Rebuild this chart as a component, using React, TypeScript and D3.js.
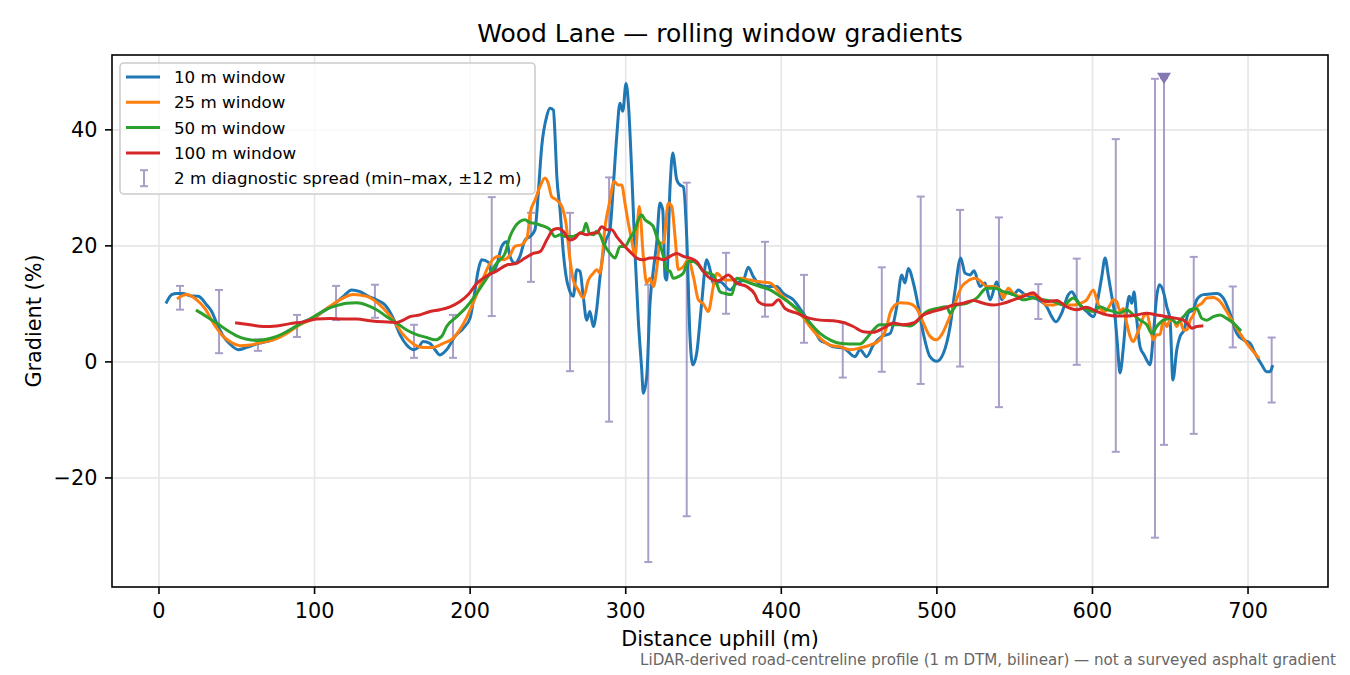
import * as d3 from "d3";
import React from "react";

// distance uphill (m), gradient (%)
const win10: [number, number][] = [
  [4.9, 10.3], [8.2, 11.6], [11.4, 11.8], [15.6, 11.8], [19.9, 11.4], [25.3, 11.3], [30.7, 9.8], [33.9, 8.7],
  [37.1, 6.7], [41.4, 4.4], [45.6, 3.1], [51.0, 2.1], [56.4, 2.5], [62.8, 3.1], [69.2, 3.5], [75.7, 4.1],
  [82.1, 5.2], [88.5, 6.1], [92.8, 6.9], [99.2, 7.5], [105.6, 8.7], [112.0, 9.8], [118.5, 11.3], [123.9, 12.4],
  [129.2, 12.1], [134.6, 11.3], [139.9, 10.7], [145.3, 9.8], [150.6, 7.5], [154.9, 4.7], [159.2, 2.9], [163.5, 2.1],
  [166.7, 2.5], [169.9, 3.5], [174.2, 3.2], [177.4, 2.1], [180.6, 1.2], [184.9, 2.1], [190.3, 4.4], [195.6, 5.8],
  [199.9, 7.5], [202.0, 10.4], [205.3, 15.9], [207.4, 17.6], [211.7, 17.2], [213.9, 15.3], [217.1, 16.7], [220.3, 19.9],
  [223.5, 20.7], [225.6, 18.2], [228.8, 17.0], [232.0, 18.2], [235.3, 21.0], [238.5, 21.6], [241.7, 22.8], [243.8, 29.1],
  [246.0, 37.1], [249.2, 42.3], [251.3, 43.7], [253.5, 43.4], [254.5, 39.4], [255.6, 32.5], [257.8, 26.2], [259.9, 18.8],
  [262.1, 14.1], [263.1, 13.0], [266.3, 11.3], [268.5, 15.9], [270.6, 15.6], [272.7, 11.3], [274.9, 7.2], [277.0, 8.7],
  [279.2, 6.1], [281.3, 9.0], [283.5, 14.7], [286.7, 20.5], [289.9, 22.8], [292.0, 30.2], [294.2, 38.8], [296.3, 44.6],
  [298.1, 43.2], [300.2, 48.0], [301.7, 44.6], [303.8, 33.1], [306.0, 18.7], [308.1, 7.2], [310.3, -1.4], [311.3, -5.4],
  [313.5, -2.5], [315.6, 10.1], [317.8, 15.9], [319.9, 20.5], [322.0, 27.4], [323.8, 26.2], [325.3, 14.7], [326.3, 14.1],
  [328.5, 30.2], [330.2, 36.0], [332.8, 31.4], [334.9, 30.5], [337.0, 30.2], [339.2, 21.6], [341.3, 4.4], [343.1, -0.5],
  [345.6, 1.5], [348.8, 10.1], [352.0, 17.6], [354.2, 15.9], [356.3, 13.5], [360.6, 13.8], [367.1, 12.4], [371.3, 13.6],
  [375.6, 14.1], [378.8, 16.3], [382.0, 14.7], [386.3, 13.3], [390.6, 13.0], [397.1, 13.0], [401.3, 11.8], [407.7, 10.7],
  [412.0, 9.2], [416.3, 7.5], [420.6, 5.8], [424.9, 3.8], [429.2, 3.2], [433.4, 2.6], [439.9, 2.4], [447.4, 0.9],
  [450.6, 2.1], [454.9, 0.9], [459.1, 2.9], [464.6, 4.4], [469.9, 4.9], [474.2, 9.5], [477.4, 15.0], [479.5, 13.6],
  [481.6, 16.1], [484.9, 13.6], [488.1, 9.5], [491.3, 4.9], [495.6, 0.9], [499.9, 0.1], [504.2, 1.5], [508.5, 6.1],
  [511.7, 12.4], [515.3, 17.9], [518.1, 15.3], [521.3, 15.0], [523.9, 15.7], [527.7, 13.0], [530.9, 13.6], [534.2, 10.7],
  [538.5, 13.8], [541.7, 10.7], [544.9, 12.1], [549.2, 11.6], [552.4, 12.4], [555.6, 11.8], [559.9, 11.3], [565.2, 10.7],
  [570.6, 9.5], [573.8, 7.8], [576.6, 6.9], [580.2, 8.4], [584.5, 11.6], [586.7, 12.1], [589.9, 10.7], [593.1, 9.5],
  [596.3, 8.7], [600.6, 7.8], [603.8, 11.3], [606.0, 14.7], [608.1, 17.9], [610.3, 14.7], [612.4, 11.3], [614.5, 7.8],
  [616.0, 3.2], [617.7, -1.9], [619.9, 2.6], [622.0, 9.0], [623.7, 11.3], [625.3, 10.1], [626.7, 12.1], [628.5, 7.2],
  [630.6, 2.6], [633.2, 1.2], [634.9, 0.3], [637.0, -0.5], [639.2, 4.9], [641.3, 11.3], [643.0, 13.3], [645.6, 12.1],
  [647.8, 9.5], [649.9, 7.2], [651.7, -3.1], [654.2, 2.1], [656.3, 4.4], [658.9, 5.5], [661.6, 8.4], [664.9, 9.0],
  [667.0, 10.7], [671.3, 11.6], [675.6, 11.7], [679.9, 11.8], [684.1, 11.0], [688.4, 8.4], [692.8, 4.9], [697.0, 3.8],
  [701.3, 3.2], [704.5, 1.5], [708.8, -0.5], [712.0, -1.7], [714.1, -1.7], [715.6, -0.8],
];

const win25: [number, number][] = [
  [12.4, 11.0], [17.8, 11.6], [24.2, 10.7], [29.6, 9.2], [34.9, 6.7], [40.3, 4.7], [45.6, 3.5], [52.1, 2.8],
  [58.5, 2.9], [64.9, 3.3], [73.5, 3.8], [82.1, 4.9], [90.6, 6.4], [99.2, 7.5], [107.8, 9.2], [116.3, 10.7],
  [124.9, 11.6], [133.5, 11.3], [142.1, 9.8], [150.6, 7.2], [157.0, 4.7], [163.5, 3.1], [169.9, 2.5], [176.3, 2.5],
  [182.7, 3.2], [189.2, 4.1], [193.5, 5.6], [197.5, 7.5], [202.0, 10.2], [208.5, 14.5], [212.8, 17.0], [218.1, 18.2],
  [221.3, 17.6], [225.6, 18.4], [228.8, 19.9], [233.1, 20.2], [236.8, 21.6], [238.5, 25.6], [241.7, 27.9], [244.9, 30.2],
  [248.1, 31.7], [250.2, 30.8], [252.4, 28.5], [255.6, 27.9], [258.9, 26.8], [261.6, 23.9], [264.2, 17.6], [266.3, 14.1],
  [269.5, 12.4], [272.7, 11.0], [276.0, 14.1], [279.2, 15.3], [281.3, 15.9], [283.5, 15.3], [286.7, 23.3], [289.9, 27.9],
  [292.5, 31.1], [295.2, 30.5], [297.4, 30.5], [299.5, 27.4], [301.7, 23.9], [303.8, 21.0], [306.0, 18.2], [308.7, 26.8],
  [311.3, 18.2], [313.5, 13.6], [315.6, 14.4], [317.8, 13.0], [319.9, 15.9], [322.0, 20.5], [324.2, 20.5], [327.4, 27.4],
  [329.6, 26.8], [331.7, 21.6], [333.8, 15.9], [337.0, 16.4], [340.2, 17.6], [343.5, 14.7], [346.7, 10.7], [349.9, 10.0],
  [353.1, 8.7], [356.3, 13.0], [358.5, 15.3], [363.8, 14.1], [368.1, 14.1], [373.5, 14.4], [379.9, 14.1], [386.3, 13.8],
  [392.8, 13.6], [399.2, 11.8], [405.6, 10.1], [412.0, 8.4], [418.4, 6.1], [424.9, 4.1], [431.3, 2.9], [437.7, 2.6],
  [444.1, 2.1], [450.6, 2.4], [457.0, 2.9], [463.4, 3.8], [467.8, 6.1], [469.9, 8.4], [473.1, 9.8], [476.3, 10.2],
  [481.6, 10.1], [487.0, 9.2], [491.3, 6.7], [495.6, 4.4], [499.9, 3.8], [503.1, 4.7], [507.4, 7.2], [511.7, 10.1],
  [516.0, 13.0], [519.2, 13.8], [524.5, 14.4], [527.7, 14.0], [532.0, 13.0], [536.3, 13.0], [540.6, 12.4], [542.7, 11.0],
  [545.9, 12.7], [549.2, 11.8], [553.5, 11.3], [557.8, 11.6], [562.0, 11.6], [566.3, 11.0], [570.6, 9.8], [574.9, 9.8],
  [579.2, 10.1], [583.5, 9.8], [587.7, 9.8], [592.0, 10.1], [596.3, 10.7], [600.6, 12.4], [602.8, 10.7], [604.9, 9.2],
  [608.1, 8.7], [611.3, 9.8], [613.4, 10.7], [615.6, 10.4], [617.7, 8.7], [619.9, 9.2], [622.0, 6.7], [624.2, 4.4],
  [626.3, 3.5], [628.5, 4.7], [630.6, 6.1], [632.8, 7.8], [634.9, 8.4], [637.0, 6.1], [639.2, 3.8], [641.3, 4.7],
  [643.4, 4.7], [645.6, 7.2], [647.8, 6.1], [649.9, 7.2], [652.1, 7.2], [654.2, 6.1], [656.3, 7.2], [658.5, 5.5],
  [660.7, 5.5], [662.8, 7.2], [664.9, 8.1], [667.0, 9.5], [670.3, 10.1], [673.5, 11.0], [677.7, 11.1], [682.0, 10.4],
  [686.3, 8.7], [690.6, 6.7], [694.9, 4.9], [699.2, 3.2], [703.4, 1.8], [706.5, 0.8],
];

const win50: [number, number][] = [
  [24.6, 8.8], [30.7, 7.8], [37.1, 6.7], [43.5, 5.5], [49.9, 4.5], [56.4, 3.9], [62.8, 3.7], [69.2, 3.9],
  [75.7, 4.4], [82.1, 5.2], [88.5, 6.2], [94.9, 7.1], [101.4, 8.1], [107.8, 9.1], [114.2, 9.7], [120.7, 10.1],
  [127.1, 10.2], [133.5, 9.8], [139.9, 9.0], [146.4, 7.8], [152.8, 6.7], [159.2, 5.5], [165.6, 4.7], [172.1, 4.2],
  [177.4, 3.8], [181.7, 4.4], [184.9, 6.1], [191.4, 7.8], [197.8, 9.5], [204.2, 11.8], [210.6, 14.4], [217.1, 17.0],
  [222.4, 18.7], [225.6, 21.6], [228.8, 23.3], [232.0, 24.2], [235.3, 24.5], [238.5, 24.0], [241.7, 23.9], [244.9, 23.6],
  [248.1, 23.3], [251.3, 22.8], [254.5, 21.6], [257.8, 21.9], [261.0, 21.6], [265.3, 21.6], [268.5, 21.9], [270.6, 22.2],
  [272.7, 22.5], [274.5, 23.9], [276.6, 22.2], [279.2, 21.9], [281.3, 22.5], [283.5, 21.9], [285.6, 20.5], [289.9, 18.7],
  [293.1, 17.9], [296.3, 19.9], [299.5, 19.9], [302.7, 21.3], [306.0, 22.8], [308.1, 24.5], [310.3, 25.3], [312.4, 24.5],
  [315.6, 23.9], [317.8, 23.3], [319.9, 21.6], [322.0, 20.2], [324.2, 18.2], [326.3, 15.9], [328.5, 15.6], [330.6, 14.4],
  [333.8, 14.7], [337.0, 15.3], [340.2, 17.3], [343.5, 17.3], [346.7, 16.7], [349.9, 15.6], [353.1, 15.3], [356.3, 15.0],
  [358.5, 13.5], [360.6, 12.1], [363.8, 11.8], [368.1, 11.6], [371.3, 14.4], [374.6, 14.1], [379.9, 13.6], [386.3, 13.0],
  [392.8, 12.4], [399.2, 11.3], [405.6, 10.1], [412.0, 8.7], [418.4, 6.7], [424.9, 4.9], [431.3, 3.8], [437.7, 3.2],
  [444.1, 3.1], [450.6, 3.1], [454.9, 4.1], [459.1, 5.5], [463.4, 6.4], [469.9, 6.4], [476.3, 6.4], [482.7, 6.2],
  [488.1, 7.2], [493.5, 8.7], [499.9, 9.2], [506.3, 9.5], [508.5, 8.4], [512.7, 9.8], [519.2, 10.1], [525.6, 11.0],
  [532.0, 12.7], [537.4, 12.7], [542.7, 12.1], [549.2, 11.6], [555.6, 10.7], [562.0, 11.0], [568.4, 10.7], [574.9, 10.4],
  [581.3, 9.8], [587.7, 11.0], [592.0, 9.8], [596.3, 9.0], [600.6, 8.7], [604.9, 9.5], [609.2, 9.0], [613.4, 8.7],
  [617.7, 8.4], [622.0, 9.0], [626.3, 8.1], [630.6, 7.2], [634.9, 6.4], [638.1, 4.9], [641.3, 6.1], [645.6, 7.2],
  [649.9, 7.5], [654.2, 6.7], [658.5, 7.8], [662.8, 9.0], [667.0, 9.2], [670.3, 7.5], [673.5, 7.2], [677.7, 7.8],
  [682.0, 8.1], [686.3, 7.5], [690.6, 6.7], [694.9, 5.5],
];

const win100: [number, number][] = [
  [49.9, 6.7], [58.5, 6.4], [67.0, 6.1], [75.7, 6.2], [84.2, 6.6], [92.8, 6.9], [101.4, 7.4], [109.9, 7.5],
  [118.5, 7.4], [127.1, 7.4], [135.6, 7.1], [144.2, 6.9], [152.8, 6.8], [157.0, 7.2], [161.3, 7.8], [167.8, 8.1],
  [174.2, 8.7], [180.6, 9.0], [187.1, 9.5], [193.5, 10.4], [198.8, 11.6], [204.2, 13.5], [210.6, 14.8], [217.1, 15.7],
  [223.5, 16.7], [229.9, 17.0], [235.3, 17.9], [240.6, 18.7], [244.9, 19.0], [249.2, 21.0], [253.5, 22.8], [256.7, 23.0],
  [259.9, 22.5], [264.2, 21.0], [267.4, 21.3], [270.6, 22.2], [274.9, 21.9], [279.2, 22.2], [281.3, 22.2], [284.6, 23.3],
  [287.8, 22.8], [291.0, 22.8], [294.2, 21.6], [298.5, 20.2], [302.7, 19.0], [307.1, 17.9], [311.3, 17.6], [315.6, 17.9],
  [319.9, 17.9], [324.2, 17.6], [328.5, 18.2], [332.8, 18.7], [337.0, 18.2], [341.3, 17.9], [345.6, 17.3], [349.9, 15.6],
  [354.2, 14.4], [358.5, 14.0], [360.6, 14.1], [365.9, 15.0], [371.3, 13.6], [377.7, 13.0], [383.1, 11.6], [385.2, 10.4],
  [390.6, 9.8], [393.8, 9.8], [398.1, 10.7], [402.4, 9.2], [409.9, 8.4], [418.4, 7.5], [424.9, 7.2], [433.4, 7.1],
  [439.9, 6.8], [446.3, 6.1], [452.7, 5.2], [459.1, 5.1], [465.6, 5.8], [472.0, 6.7], [478.4, 6.4], [484.9, 6.7],
  [491.3, 8.1], [497.7, 8.7], [504.2, 9.2], [510.6, 9.8], [517.0, 10.1], [523.4, 10.6], [529.9, 10.1], [536.3, 9.8],
  [542.7, 10.1], [549.2, 10.7], [555.6, 11.3], [562.0, 11.9], [565.2, 11.1], [570.6, 10.4], [577.0, 10.6], [583.5, 9.5],
  [589.9, 9.0], [596.3, 9.4], [602.8, 8.7], [609.2, 8.1], [615.6, 7.9], [622.0, 7.9], [628.5, 8.1], [634.9, 8.4],
  [641.3, 8.1], [647.8, 7.8], [654.2, 7.5], [658.5, 7.2], [661.7, 6.4], [663.8, 5.8], [667.0, 6.1], [670.3, 6.2],
];

// 2 m diagnostic spread (min–max within ±12 m)
const spreadDist = [13.5, 38.6, 63.6, 88.7, 113.8, 138.8, 163.9, 189.0, 213.9, 239.1, 264.2, 289.3, 314.5, 339.2, 364.5,
  389.5, 414.6, 439.5, 464.6, 489.6, 514.9, 539.9, 565.2, 589.9, 615.0, 640.2, 646.0, 665.1, 690.2, 715.2];
const spreadLo = [9.0, 1.5, 1.9, 4.3, 7.2, 7.6, 0.7, 0.7, 7.9, 13.8, -1.6, -10.3, -34.5, -26.6, 8.3,
  7.8, 3.3, -2.7, -1.7, -3.8, -0.8, -7.8, 7.4, -0.5, -15.5, -30.3, -14.3, -12.4, 2.5, -7.0];
const spreadHi = [13.1, 12.4, 3.9, 8.1, 13.1, 13.3, 6.4, 8.1, 28.4, 25.7, 25.7, 31.8, 13.3, 30.9, 18.8,
  20.7, 15.0, 6.8, 16.3, 28.5, 26.2, 24.9, 13.4, 17.8, 38.4, 48.8, 48.9, 18.1, 13.0, 4.2];

// flagged maximum of the spread
const flagDist = 646.0;
const flagGrad = 48.9;

const xTicks = [0, 100, 200, 300, 400, 500, 600, 700];
const yTicks = [-20, 0, 20, 40];

const series = [
  { label: "10 m window", data: win10, color: "#1f77b4" },
  { label: "25 m window", data: win25, color: "#ff7f0e" },
  { label: "50 m window", data: win50, color: "#2ca02c" },
  { label: "100 m window", data: win100, color: "#d62728" },
];
const spreadLabel = "2 m diagnostic spread (min–max, ±12 m)";
const spreadColor = "#aa9ec8";

const W = 1350;
const H = 675;
const plot = { left: 112, right: 1328, top: 55, bottom: 587 };
const font = "'DejaVu Sans', sans-serif";

const fmt = (v: number) => (v < 0 ? "\u2212" + Math.abs(v) : String(v));

export default function App() {
  const x = d3.scaleLinear().domain([-30.2, 751.4]).range([plot.left, plot.right]);
  const y = d3.scaleLinear().domain([-38.8, 52.9]).range([plot.bottom, plot.top]);

  const line = d3
    .line<[number, number]>()
    .x(d => x(d[0]))
    .y(d => y(d[1]))
    .curve(d3.curveMonotoneX);

  const cap = 4;
  const legendRowY = (i: number) => 77 + i * 25.3;

  return (
    <svg
      width={W}
      height={H}
      style={{ position: "absolute", left: 0, top: 0, background: "#fff" }}
      fontFamily={font}
    >
      <defs>
        <clipPath id="plot-clip">
          <rect x={plot.left} y={plot.top} width={plot.right - plot.left} height={plot.bottom - plot.top} />
        </clipPath>
      </defs>

      {/* grid */}
      <g stroke="#e6e6e6" strokeWidth={1.6}>
        {xTicks.map(t => (
          <line key={"gx" + t} x1={x(t)} x2={x(t)} y1={plot.top} y2={plot.bottom} />
        ))}
        {yTicks.map(t => (
          <line key={"gy" + t} x1={plot.left} x2={plot.right} y1={y(t)} y2={y(t)} />
        ))}
      </g>

      <g clipPath="url(#plot-clip)">
        {/* error bars */}
        <g stroke={spreadColor} strokeWidth={2} fill="none">
          {spreadDist.map((d, i) => (
            <g key={"eb" + i}>
              <line x1={x(d)} x2={x(d)} y1={y(spreadLo[i])} y2={y(spreadHi[i])} />
              <line x1={x(d) - cap} x2={x(d) + cap} y1={y(spreadLo[i])} y2={y(spreadLo[i])} />
              <line x1={x(d) - cap} x2={x(d) + cap} y1={y(spreadHi[i])} y2={y(spreadHi[i])} />
            </g>
          ))}
        </g>

        {/* rolling window lines */}
        {series.map(s => (
          <path
            key={s.label}
            d={line(s.data) ?? ""}
            fill="none"
            stroke={s.color}
            strokeWidth={3}
            strokeLinejoin="round"
            strokeLinecap="square"
          />
        ))}

        {/* flag marker */}
        <path
          d={`M${x(flagDist) - 7},${y(flagGrad) - 5.5} L${x(flagDist) + 7},${y(flagGrad) - 5.5} L${x(flagDist)},${y(flagGrad) + 6} Z`}
          fill="#8577b2"
        />
      </g>

      {/* spines */}
      <rect
        x={plot.left}
        y={plot.top}
        width={plot.right - plot.left}
        height={plot.bottom - plot.top}
        fill="none"
        stroke="#000"
        strokeWidth={1.6}
      />

      {/* x ticks */}
      {xTicks.map(t => (
        <g key={"xt" + t}>
          <line x1={x(t)} x2={x(t)} y1={plot.bottom} y2={plot.bottom + 7} stroke="#000" strokeWidth={1.6} />
          <text x={x(t)} y={plot.bottom + 31} textAnchor="middle" fontSize={20.8} fill="#000">
            {fmt(t)}
          </text>
        </g>
      ))}

      {/* y ticks */}
      {yTicks.map(t => (
        <g key={"yt" + t}>
          <line x1={plot.left - 7} x2={plot.left} y1={y(t)} y2={y(t)} stroke="#000" strokeWidth={1.6} />
          <text x={plot.left - 14.5} y={y(t) + 7.5} textAnchor="end" fontSize={20.8} fill="#000">
            {fmt(t)}
          </text>
        </g>
      ))}

      {/* axis labels */}
      <text x={(plot.left + plot.right) / 2} y={646} textAnchor="middle" fontSize={20.8} fill="#000">
        Distance uphill (m)
      </text>
      <text
        transform={`translate(41, ${(plot.top + plot.bottom) / 2}) rotate(-90)`}
        textAnchor="middle"
        fontSize={20.8}
        fill="#000"
      >
        Gradient (%)
      </text>

      {/* title */}
      <text x={(plot.left + plot.right) / 2} y={42} textAnchor="middle" fontSize={25} fill="#000">
        Wood Lane — rolling window gradients
      </text>

      {/* legend */}
      <g>
        <rect x={120} y={63} width={415} height={131} rx={4} fill="#fff" fillOpacity={0.8} stroke="#cccccc" strokeWidth={1.6} />
        {series.map((s, i) => (
          <g key={"lg" + s.label}>
            <line x1={126} x2={160} y1={legendRowY(i)} y2={legendRowY(i)} stroke={s.color} strokeWidth={3} />
            <text x={174} y={legendRowY(i) + 6} fontSize={16.7} fill="#000">
              {s.label}
            </text>
          </g>
        ))}
        <g stroke={spreadColor} strokeWidth={2}>
          <line x1={144} x2={144} y1={legendRowY(4) - 8} y2={legendRowY(4) + 8} />
          <line x1={144 - cap} x2={144 + cap} y1={legendRowY(4) - 8} y2={legendRowY(4) - 8} />
          <line x1={144 - cap} x2={144 + cap} y1={legendRowY(4) + 8} y2={legendRowY(4) + 8} />
        </g>
        <text x={174} y={legendRowY(4) + 6} fontSize={16.7} fill="#000">
          {spreadLabel}
        </text>
      </g>

      {/* footnote */}
      <text x={1336} y={665} textAnchor="end" fontSize={15.1} fill="#666">
        LiDAR-derived road-centreline profile (1 m DTM, bilinear) — not a surveyed asphalt gradient
      </text>
    </svg>
  );
}
